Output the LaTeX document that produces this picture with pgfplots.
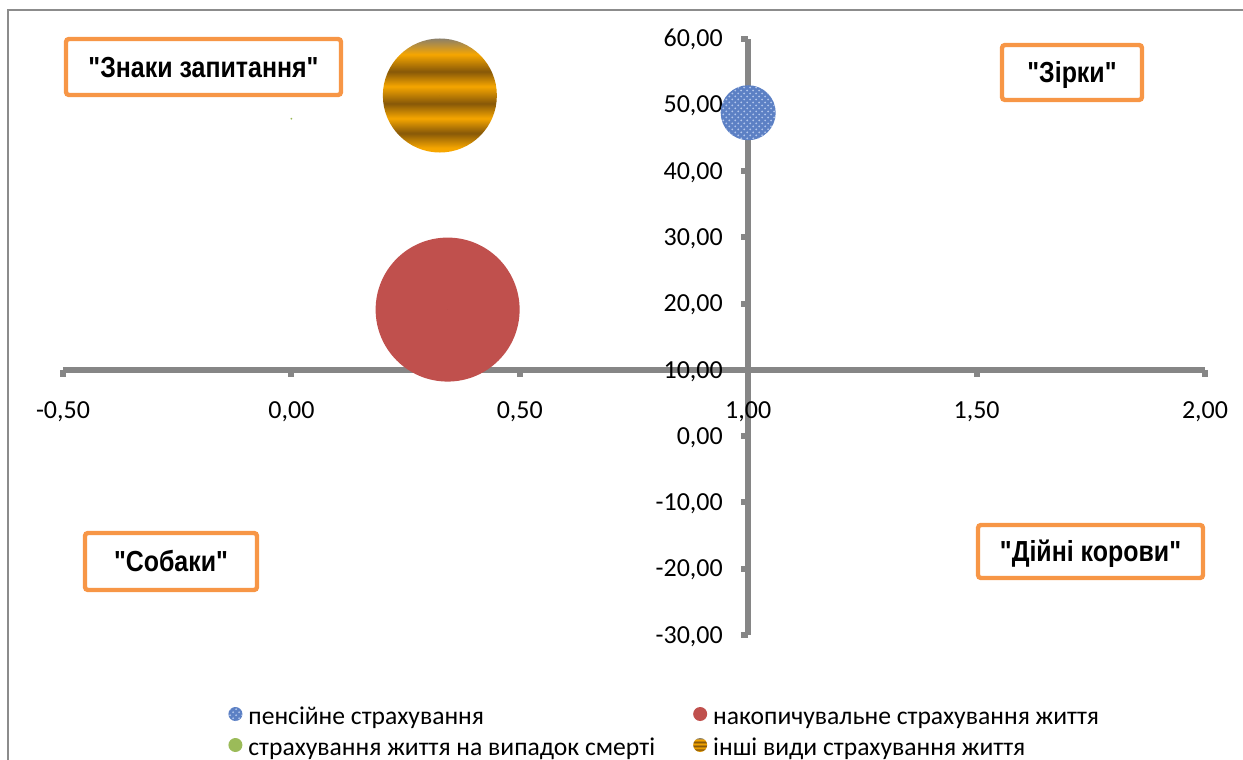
\documentclass[border=0pt]{standalone}
\usepackage{fontspec}
\setmainfont{Carlito}
\newfontfamily\boxfont[FakeStretch=0.86]{Liberation Sans}
\usepackage{pgfplots}
\pgfplotsset{compat=1.18}
\usetikzlibrary{patterns}

\definecolor{axisgray}{RGB}{134,134,134}
\definecolor{framegray}{RGB}{140,140,140}
\definecolor{boxorange}{RGB}{247,150,70}
\definecolor{pensblue}{RGB}{92,128,196}
\definecolor{pensblueL}{RGB}{178,198,236}
\definecolor{savred}{RGB}{192,80,77}
\definecolor{deathgreen}{RGB}{155,187,89}
\definecolor{gO}{RGB}{246,166,0}
\definecolor{gB}{RGB}{135,88,8}
\definecolor{gG}{RGB}{140,128,105}

% striped golden fill for "other kinds of life insurance"
\pgfdeclareverticalshading{goldbands}{100bp}{%
  color(0bp)=(gO); color(27bp)=(gO); color(33.5bp)=(gB); color(40bp)=(gO);
  color(46.5bp)=(gB); color(54bp)=(gO); color(60.5bp)=(gB); color(68bp)=(gO);
  color(75bp)=(gG); color(100bp)=(gG)}

\tikzset{
  quadbox/.style={draw=boxorange, line width=2.2bp, rounded corners=1.5bp,
    fill=white, inner sep=0pt, text height=10.4bp, text depth=0pt,
    font=\boxfont\bfseries\fontsize{14.5bp}{16bp}\selectfont},
  tick lbl/.style={inner sep=0pt, font=\fontsize{13bp}{15bp}\selectfont},
  pens fill/.style={fill=pensblue,
    postaction={draw=none, pattern=crosshatch dots, pattern color=pensblueL}},
  sav fill/.style={fill=savred},
  death fill/.style={fill=deathgreen},
  other fill/.style={shade, shading=goldbands},
}

% bubble radius (bp) grows with the square root of the size column
\pgfplotsset{
  bubble/.style={scatter, only marks, mark=*, mark size=0pt,
    visualization depends on={3.6*sqrt(\thisrow{s}) \as \rad},
    scatter/@pre marker code/.code={%
      \path[draw=none, #1] (0pt,0pt) circle[radius=\rad*1bp];},
    scatter/@post marker code/.code={},
    legend image code/.code={%
      \path[draw=none] (0bp,0bp) -- (10bp,0bp);
      \path[draw=none, #1] (3.5bp,3bp) circle[radius=3.5bp];},
  },
}

\begin{document}
\begin{tikzpicture}
% chart area frame
\draw[framegray, line width=0.75bp] (4bp,0bp) -- (4bp,375bp) -- (621.5bp,375bp);

\begin{axis}[
  at={(31.5bp,62.5bp)}, anchor=south west,
  scale only axis, width=571bp, height=298.25bp,
  xmin=-0.5, xmax=2, ymin=-30, ymax=60,
  hide axis, clip=false,
  legend columns=2,
  legend cell align=left,
  legend style={
    at={(axis description cs:0.1445,-0.1685)}, anchor=west,
    draw=none, fill=none, inner sep=0pt,
    font=\fontsize{12.8bp}{15bp}\selectfont,
    row sep=0pt,
    nodes={inner sep=0pt, text height=10bp, text depth=5.5bp},
    /tikz/every even column/.append style={column sep=19bp},
  },
]

% axes crossing at (1; 10)
\pgfplotsextra{
  \draw[axisgray, line width=3bp] (axis cs:-0.5,10) -- (axis cs:2,10);
  \draw[axisgray, line width=3bp] (axis cs:1,-30) -- (axis cs:1,60);
  \foreach \x in {-0.5,0,0.5,1,1.5,2}
    \draw[axisgray, line width=3bp] (axis cs:\x,10) -- ++(0bp,-3.5bp);
  \foreach \y in {-30,-20,...,60}
    \draw[axisgray, line width=3bp] (axis cs:1,\y) -- ++(-3.5bp,0bp);
  \foreach \x/\t in {-0.5/{-0,50},0/{0,00},0.5/{0,50},1/{1,00},1.5/{1,50},2/{2,00}}
    \node[tick lbl, anchor=base] at ([yshift=-24.1bp]axis cs:\x,10) {\t};
  \foreach \y/\t in {60/{60,00},50/{50,00},40/{40,00},30/{30,00},20/{20,00},
                     10/{10,00},0/{0,00},-10/{-10,00},-20/{-20,00},-30/{-30,00}}
    \node[tick lbl, anchor=base east] at ([xshift=-12.5bp,yshift=-4.1bp]axis cs:1,\y) {\t};
}

\addplot[bubble=pens fill] table {
x     y     s
1.00  48.8  14.6
};
\addlegendentry{пенсійне страхування}

\addplot[bubble=sav fill] table {
x     y     s
0.342 19.1  100
};
\addlegendentry{накопичувальне страхування життя}

\addplot[bubble=death fill] table {
x     y     s
0.00  47.9  0.02
};
\addlegendentry{страхування життя на випадок смерті}

\addplot[bubble=other fill] table {
x     y     s
0.325 51.4  62.7
};
\addlegendentry{інші види страхування життя}
\end{axis}

% BCG quadrant captions
\node[quadbox, minimum width=137.5bp, minimum height=28bp] at (101.75bp,346.5bp) {"Знаки запитання"};
\node[quadbox, minimum width=70bp, minimum height=27.5bp] at (536bp,343.75bp) {"Зірки"};
\node[quadbox, minimum width=112.5bp, minimum height=26.5bp] at (545.25bp,104.25bp) {"Дійні корови"};
\node[quadbox, minimum width=86bp, minimum height=28.5bp] at (85.5bp,99.25bp) {"Собаки"};

\pgfresetboundingbox
\useasboundingbox (0bp,0bp) rectangle (621.5bp,380bp);
\end{tikzpicture}
\end{document}
